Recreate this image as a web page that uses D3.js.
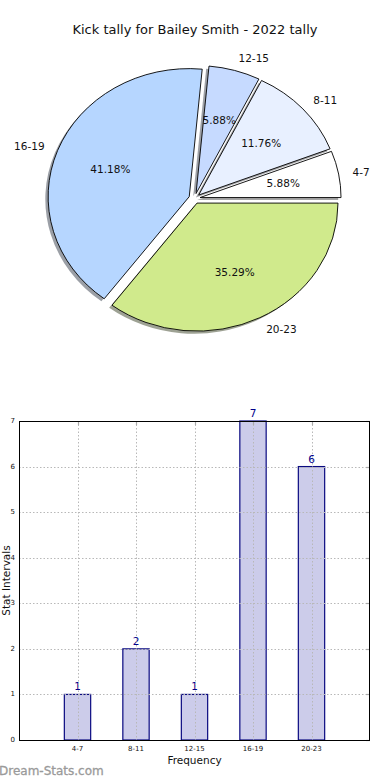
<!DOCTYPE html>
<html><head><meta charset="utf-8">
<script src="https://cdn.jsdelivr.net/npm/d3@7"></script>
<style>
html,body{margin:0;padding:0;background:#fff;}
svg{display:block;font-family:"DejaVu Sans",sans-serif;}
</style></head>
<body>
<svg id="c" width="390" height="780"></svg>
<script>
const categories = ["4-7", "8-11", "12-15", "16-19", "20-23"];
const counts = [1, 2, 1, 7, 6];
const percentLabels = ["5.88%", "11.76%", "5.88%", "41.18%", "35.29%"];
const pieColors = ["#ffffff", "#e8f0ff", "#c6daff", "#b6d6ff", "#d0ea8c"];
const yTicks = [0, 1, 2, 3, 4, 5, 6, 7];
const titleText = "Kick tally for Bailey Smith - 2022 tally";

const svg = d3.select("#c");

// Title
svg.append("text").attr("x", 195).attr("y", 34).attr("text-anchor", "middle")
  .attr("font-size", 13).attr("fill", "#111").text(titleText);

// ---- Pie (elliptical, matplotlib style) ----
const cx = 194.5, cy = 198.5, rx = 141, ry = 128, explode = 0.04;
const pie = d3.pie().sort(null).startAngle(Math.PI / 2).endAngle(Math.PI / 2 - 2 * Math.PI);
const arcs = pie(counts);
const arcGen = d3.arc().innerRadius(0).outerRadius(1);
const pieData = arcs.map((a, i) => {
  const a0 = Math.min(a.startAngle, a.endAngle), a1 = Math.max(a.startAngle, a.endAngle);
  const mid = (a0 + a1) / 2;
  const ox = cx + explode * rx * Math.sin(mid);
  const oy = cy - explode * ry * Math.cos(mid);
  return {i, a0, a1, mid, ox, oy, path: arcGen({startAngle: a0, endAngle: a1})};
});
const gPie = svg.append("g");
function darker(c) { const r = d3.rgb(c); return d3.rgb(r.r * 0.3, r.g * 0.3, r.b * 0.3).toString(); }
// shadows
gPie.selectAll("path.sh").data(pieData).join("path").attr("class", "sh")
  .attr("d", d => d.path)
  .attr("transform", d => `translate(${d.ox - 0.02 * rx},${d.oy + 0.02 * ry}) scale(${rx},${ry})`)
  .attr("fill", d => darker(pieColors[d.i])).attr("fill-opacity", 0.5).attr("stroke", "none");
// wedges
gPie.selectAll("path.w").data(pieData).join("path").attr("class", "w")
  .attr("d", d => d.path)
  .attr("transform", d => `translate(${d.ox},${d.oy}) scale(${rx},${ry})`)
  .attr("fill", d => pieColors[d.i]).attr("stroke", "#000").attr("stroke-width", 0.9)
  .attr("vector-effect", "non-scaling-stroke").attr("stroke-linejoin", "round");
// category labels
gPie.selectAll("text.lab").data(pieData).join("text").attr("class", "lab")
  .attr("x", d => d.ox + 1.1 * rx * Math.sin(d.mid))
  .attr("y", d => d.oy - 1.1 * ry * Math.cos(d.mid))
  .attr("text-anchor", d => Math.sin(d.mid) > 0 ? "start" : "end")
  .attr("dominant-baseline", "central")
  .attr("font-size", 10.5).attr("fill", "#111").text(d => categories[d.i]);
// percent labels
gPie.selectAll("text.pct").data(pieData).join("text").attr("class", "pct")
  .attr("x", d => d.ox + 0.6 * rx * Math.sin(d.mid))
  .attr("y", d => d.oy - 0.6 * ry * Math.cos(d.mid))
  .attr("text-anchor", "middle").attr("dominant-baseline", "central")
  .attr("font-size", 10.5).attr("fill", "#111").text(d => percentLabels[d.i]);

// ---- Bar chart ----
const L = 19, R = 370, T = 421, B = 740;
const x = d3.scaleLinear().domain([0, 6]).range([L, R]);
const y = d3.scaleLinear().domain([0, 7]).range([B, T]);
const gBar = svg.append("g");
const bw = 0.45;
gBar.selectAll("rect.bar").data(counts).join("rect").attr("class", "bar")
  .attr("x", (d, i) => x(i + 1 - bw / 2)).attr("y", d => y(d))
  .attr("width", (d, i) => x(i + 1 + bw / 2) - x(i + 1 - bw / 2))
  .attr("height", d => y(0) - y(d))
  .attr("fill", "#ccccea").attr("stroke", "#0a0a80").attr("stroke-width", 1.2);
// grid
const grid = svg.append("g").attr("stroke", "#b8b8b8").attr("stroke-width", 1).attr("stroke-dasharray", "1.5,2");
grid.selectAll("line.gy").data(yTicks).join("line").attr("class", "gy")
  .attr("x1", L).attr("x2", R).attr("y1", d => Math.round(y(d)) + 0.5).attr("y2", d => Math.round(y(d)) + 0.5);
grid.selectAll("line.gx").data(categories).join("line").attr("class", "gx")
  .attr("x1", (d, i) => Math.round(x(i + 1)) + 0.5).attr("x2", (d, i) => Math.round(x(i + 1)) + 0.5)
  .attr("y1", T).attr("y2", B);
// tick marks (inside, all sides)
const tk = svg.append("g").attr("stroke", "#aaa").attr("stroke-width", 1.2);
tk.selectAll("line.tt").data(categories).join("line")
  .attr("x1", (d, i) => Math.round(x(i + 1)) + 0.5).attr("x2", (d, i) => Math.round(x(i + 1)) + 0.5)
  .attr("y1", T).attr("y2", T + 4);
tk.selectAll("line.tr").data(yTicks).join("line")
  .attr("x1", R - 4).attr("x2", R).attr("y1", d => Math.round(y(d)) + 0.5).attr("y2", d => Math.round(y(d)) + 0.5);
// frame
svg.append("rect").attr("x", L + 0.5).attr("y", T + 0.5).attr("width", R - L - 1).attr("height", B - T)
  .attr("fill", "none").attr("stroke", "#000").attr("stroke-width", 1);
// value labels
gBar.selectAll("text.val").data(counts).join("text").attr("class", "val")
  .attr("x", (d, i) => x(i + 1)).attr("y", d => y(d) - 4)
  .attr("text-anchor", "middle").attr("font-size", 10.5).attr("fill", "#00008b").text(d => d);
// y tick labels
svg.selectAll("text.yt").data(yTicks).join("text").attr("class", "yt")
  .attr("x", 15).attr("y", d => y(d)).attr("text-anchor", "end").attr("dominant-baseline", "central")
  .attr("font-size", 7).attr("fill", "#111").text(d => d);
// x tick labels
svg.selectAll("text.xt").data(categories).join("text").attr("class", "xt")
  .attr("x", (d, i) => x(i + 1)).attr("y", 751).attr("text-anchor", "middle")
  .attr("font-size", 7).attr("fill", "#111").text(d => d);
// axis labels
svg.append("text").attr("x", (L + R) / 2).attr("y", 764).attr("text-anchor", "middle")
  .attr("font-size", 10.5).attr("fill", "#111").text("Frequency");
svg.append("text").attr("transform", `translate(10,${(T + B) / 2}) rotate(-90)`)
  .attr("text-anchor", "middle").attr("font-size", 10.5).attr("fill", "#111").text("Stat Intervals");
// watermark
svg.append("text").attr("x", -1).attr("y", 775).attr("font-size", 12)
  .attr("fill", "#9a9a9a").attr("stroke", "#9a9a9a").attr("stroke-width", 0.3).text("Dream-Stats.com");
</script>
</body></html>
